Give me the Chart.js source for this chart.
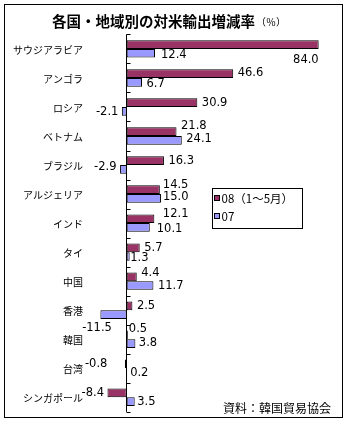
<!DOCTYPE html>
<html><head><meta charset="utf-8">
<script src="https://cdn.jsdelivr.net/npm/chart.js@4"></script>
<style>html,body{margin:0;padding:0;background:#fff;}canvas{display:block;}</style>
</head><body>
<canvas id="c" width="347" height="423"></canvas>
<script>
const categories = ['サウジアラビア','アンゴラ','ロシア','ベトナム','ブラジル','アルジェリア','インド','タイ','中国','香港','韓国','台湾','シンガポール'];
const series08 = [84.0, 46.6, 30.9, 21.8, 16.3, 14.5, 12.1, 5.7, 4.4, 2.5, 0.5, -0.8, -8.4];
const series07 = [12.4, 6.7, -2.1, 24.1, -2.9, 15.0, 10.1, 1.3, 11.7, -11.5, 3.8, 0.2, 3.5];
const seriesNames = ['08（1～5月）', '07'];
const titleText = '各国・地域別の対米輸出増減率';
const titleUnit = '（％）';
const sourceText = '資料：韓国貿易協会';
const xMin = -50, xMax = 90;

// label nudges "dataset,index": [dx, dy, align]
const labelNudge = {
  '0,0': [0, 14.5, 'endRight'],
  '1,0': [1.5, 1.5],
  '0,1': [0, -1.5],
  '1,1': [0, 1],
  '0,3': [0, -6],
  '1,3': [0, -1.5],
  '1,4': [0, -3],
  '0,5': [-1.5, -5],
  '1,5': [-2.5, -2],
  '0,6': [4, -5],
  '1,6': [2.5, 1.5],
  '1,7': [-4, 1.5],
  '0,8': [0, -4.5],
  '1,9': [15, 12.5],
  '0,10': [-3.5, -6],
  '1,10': [-1, -1],
  '0,11': [-14, 0],
  '1,11': [-1.5, 0],
  '1,12': [-2, 0]
};

const COL08 = '#993366', COL07 = '#9999FF';
const JP = '"Noto Sans CJK JP", "Noto Sans", sans-serif';
const NUM = '"DejaVu Sans", sans-serif';

const decor = {
  id: 'decor',
  afterDatasetsDraw(chart) {
    const ctx = chart.ctx, ca = chart.chartArea;
    const xs = chart.scales.x, ys = chart.scales.y;
    ctx.save();
    const x0 = Math.floor(xs.getPixelForValue(0)) + 0.5;
    ctx.strokeStyle = '#000';
    ctx.lineWidth = 1;
    ctx.beginPath();
    ctx.moveTo(x0, ca.top);
    ctx.lineTo(x0, ca.bottom);
    const n = categories.length;
    for (let k = 0; k <= n; k++) {
      const y = Math.round(ca.top + k * ca.height / n) + 0.5;
      ctx.moveTo(x0, y);
      ctx.lineTo(x0 + 4, y);
    }
    ctx.stroke();

    ctx.fillStyle = '#000';
    ctx.font = '10px ' + JP;
    ctx.textAlign = 'right';
    ctx.textBaseline = 'middle';
    categories.forEach((c, j) => {
      ctx.fillText(c, 83, ys.getPixelForValue(j) + 1);
    });

    ctx.font = '11.5px ' + NUM;
    chart.data.datasets.forEach((ds, d) => {
      const meta = chart.getDatasetMeta(d);
      meta.data.forEach((el, j) => {
        const v = ds.data[j];
        const txt = v.toFixed(1);
        const nd = labelNudge[d + ',' + j] || [0, 0];
        let x, align;
        if (nd[2] === 'endRight') { x = el.x; align = 'right'; }
        else if (v >= 0) { x = el.x + 4.5; align = 'left'; }
        else { x = el.x - 3.5; align = 'right'; }
        ctx.textAlign = align;
        ctx.textBaseline = 'middle';
        ctx.fillText(txt, x + nd[0], el.y + nd[1] + 0.5);
      });
    });

    ctx.textBaseline = 'middle';
    ctx.textAlign = 'left';
    ctx.font = 'bold 14.5px ' + JP;
    const tw = ctx.measureText(titleText).width;
    ctx.fillText(titleText, 52, 21.5);
    ctx.font = '10px ' + JP;
    ctx.fillText(titleUnit, 52 + tw + 1, 22.5);

    ctx.strokeRect(212.5, 188.5, 90, 40);
    const lg = [[COL08, seriesNames[0], 198], [COL07, seriesNames[1], 216]];
    ctx.font = '11.5px ' + JP;
    lg.forEach(([col, name, y]) => {
      ctx.fillStyle = col;
      ctx.fillRect(214, y - 3, 6, 6);
      ctx.strokeStyle = '#000';
      ctx.strokeRect(214.5, y - 2.5, 5, 5);
      ctx.fillStyle = '#000';
      ctx.textAlign = 'left';
      ctx.fillText(name, 221.5, y + 0.5);
    });

    ctx.font = '12px ' + JP;
    ctx.textAlign = 'right';
    ctx.fillText(sourceText, 331, 408.5);

    ctx.strokeStyle = '#000';
    ctx.strokeRect(4.5, 4.5, 338, 413);
    ctx.restore();
  }
};

new Chart(document.getElementById('c'), {
  type: 'bar',
  data: {
    labels: categories,
    datasets: [
      { label: seriesNames[0], data: series08, backgroundColor: COL08, borderColor: '#000', borderWidth: 1, borderSkipped: false, categoryPercentage: 0.6, barPercentage: 1.0 },
      { label: seriesNames[1], data: series07, backgroundColor: COL07, borderColor: '#000', borderWidth: 1, borderSkipped: false, categoryPercentage: 0.6, barPercentage: 1.0 }
    ]
  },
  options: {
    indexAxis: 'y',
    responsive: false,
    animation: false,
    devicePixelRatio: 1,
    events: [],
    layout: { padding: { left: 12.4, right: 347 - 332.4, top: 34.4, bottom: 423 - 411.8 } },
    scales: {
      x: { type: 'linear', min: xMin, max: xMax, display: false },
      y: { type: 'category', display: false }
    },
    plugins: { legend: { display: false }, title: { display: false }, tooltip: { enabled: false } }
  },
  plugins: [decor]
});
</script>
</body></html>
